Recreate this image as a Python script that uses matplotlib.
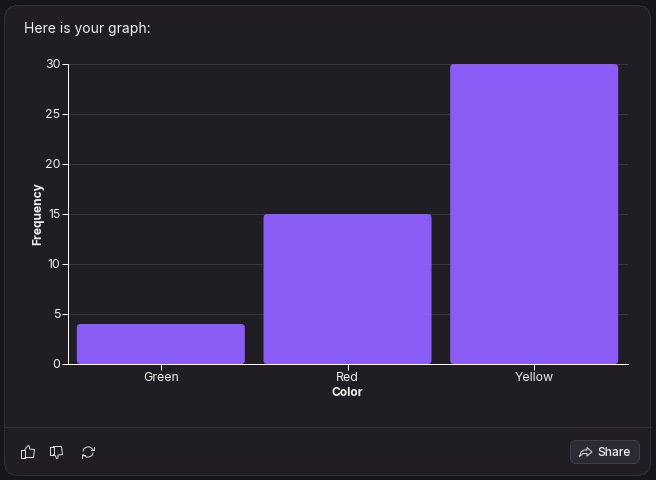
import matplotlib
matplotlib.use('Agg')
from matplotlib import pyplot as plt
from matplotlib.patches import FancyBboxPatch

colors = ['Green', 'Red', 'Yellow']
freq = [4, 15, 30]
yticks = [0, 5, 10, 15, 20, 25, 30]

W, H = 656, 480
BG = '#17161c'
CARD = '#201e24'
EDGE = '#302f35'
GRID = '#38373d'
PURPLE = '#8a5cf6'
TXT = '#f0f0f2'
LW = 0.72  # 1 px at dpi 100

plt.rcParams['font.family'] = ['Inter', 'DejaVu Sans']

fig = plt.figure(figsize=(W / 100, H / 100), dpi=100, facecolor=BG)

# pixel canvas for the card and the footer
bg = fig.add_axes([0, 0, 1, 1])
bg.set_xlim(0, W)
bg.set_ylim(H, 0)
bg.axis('off')
bg.add_patch(FancyBboxPatch((4.5, 5.5), 646, 470, boxstyle='round,pad=0,rounding_size=14',
                            fc=CARD, ec=EDGE, lw=LW))
bg.plot([5, 651], [427, 427], color=EDGE, lw=LW)
bg.text(24, 29.5, 'Here is your graph:', color=TXT, fontsize=10, va='center', ha='left')

# thumbs up
ic = '#d8d8dc'
bg.plot([21, 25, 25, 21, 21], [449.5, 449.5, 457.5, 457.5, 449.5], color=ic, lw=LW)
bg.plot([25, 27.5, 28.5, 29.5, 29.5, 34.5, 33.5, 25],
        [449.5, 446, 445.5, 447, 449, 449.5, 457.5, 457.5], color=ic, lw=LW)
# thumbs down
bg.plot([49.5, 53.5, 53.5, 49.5, 49.5], [446.5, 446.5, 454.5, 454.5, 446.5], color=ic, lw=LW)
bg.plot([53.5, 61.5, 62.5, 58, 58, 56.5, 55.5, 53.5],
        [446.5, 446.5, 454.5, 455, 458, 458.5, 456, 454.5], color=ic, lw=LW)
# refresh
bg.plot([83, 84, 87, 90, 93], [451, 448.5, 447, 447, 449.5], color=ic, lw=LW)
bg.plot([93, 92, 89, 86, 83], [453, 455.5, 457, 457, 454.5], color=ic, lw=LW)
bg.plot([91, 94, 94], [449.5, 449.5, 446.5], color=ic, lw=LW)
bg.plot([85, 82, 82], [454.5, 454.5, 457.5], color=ic, lw=LW)

# share button
bg.add_patch(FancyBboxPatch((570.5, 440.5), 69, 23, boxstyle='round,pad=0,rounding_size=6',
                            fc='#2c2b33', ec='#3f3e47', lw=LW))
bg.plot([579.5, 581, 584, 587, 587, 592, 587, 587, 583, 579.5],
        [456.5, 452, 450, 450, 447.5, 452, 456, 453.5, 453.5, 456.5], color=ic, lw=LW)
bg.text(597, 452.5, 'Share', color=TXT, fontsize=8.6, fontweight='medium', va='center', ha='left')

# chart
ax = fig.add_axes([67.5 / W, 1 - 364 / H, 560 / W, 300 / H])
ax.patch.set_alpha(0)
bars = ax.bar(colors, freq, width=0.9, alpha=0)
ax.set_xlim(-0.5, 2.5)
ax.set_ylim(0, 30)
ax.set_yticks(yticks)
ax.grid(axis='y', color=GRID, lw=LW)
ax.set_axisbelow(True)

# rounded corners, same geometry as the bars
for b in bars:
    ax.add_patch(FancyBboxPatch((b.get_x(), b.get_y()), b.get_width(), b.get_height(),
                                boxstyle='round,pad=0,rounding_size=0.02',
                                mutation_aspect=18.67, fc=PURPLE, ec='none', zorder=3))

for s in ['top', 'right']:
    ax.spines[s].set_visible(False)
for s in ['left', 'bottom']:
    ax.spines[s].set_color('white')
    ax.spines[s].set_linewidth(LW)
    ax.spines[s].set_zorder(4)
ax.tick_params(axis='both', colors='white', labelcolor=TXT, labelsize=8.9, length=4, width=LW, pad=2)
ax.tick_params(axis='y', pad=1)
ax.set_xlabel('Color', color=TXT, fontsize=8.6, fontweight='bold', labelpad=2)
ax.set_ylabel('Frequency', color=TXT, fontsize=8.6, fontweight='bold', labelpad=0.5)

plt.savefig('out.png', dpi=100, facecolor=BG)
